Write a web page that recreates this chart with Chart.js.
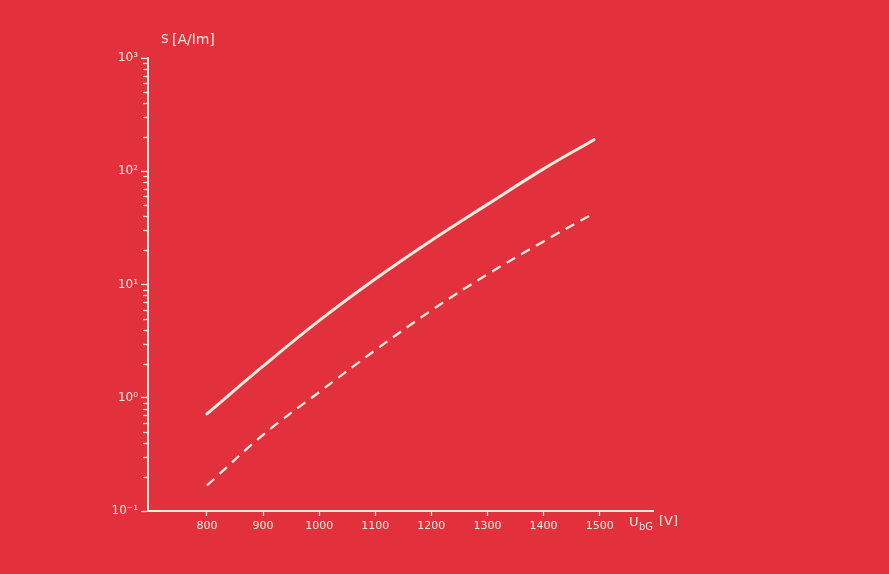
<!DOCTYPE html>
<html>
<head>
<meta charset="utf-8">
<script src="https://cdn.jsdelivr.net/npm/chart.js@4/dist/chart.umd.min.js"></script>
<style>
  html, body { margin: 0; padding: 0; background: #e3303d; }
  #wrap { width: 889px; height: 574px; position: relative; }
</style>
</head>
<body>
<div id="wrap"><canvas id="chart" width="889" height="574"></canvas></div>
<script>
// Sensitivity S [A/lm] versus supply voltage U_bG [V]
const voltages = [800, 900, 1000, 1100, 1200, 1300, 1400, 1490];
const sensitivityUpper = [0.72, 1.9, 4.8, 11.2, 24.5, 51, 105, 190];
const sensitivityLower = [0.168, 0.47, 1.12, 2.63, 5.9, 12.3, 24, 42.7];

const xTickValues = [800, 900, 1000, 1100, 1200, 1300, 1400, 1500];
const yTickValues = [0.1, 1, 10, 100, 1000];
const yTickLabels = ['10⁻¹', '10⁰', '10¹', '10²', '10³'];

const BG = '#e3303d';
const INK = '#f7ecdc';
const FONT = '"DejaVu Sans", sans-serif';

const paper = {
  id: 'paper',
  beforeDraw(chart) {
    const c = chart.ctx;
    c.save();
    c.fillStyle = BG;
    c.fillRect(0, 0, chart.width, chart.height);
    c.restore();
  },
  afterDraw(chart) {
    const c = chart.ctx;
    const y = chart.scales.y;
    const left = chart.chartArea.left;
    c.save();
    c.strokeStyle = INK;
    c.lineWidth = 1.3;
    // minor ticks 2..9 within each decade
    for (let d = -1; d < 3; d++) {
      for (let m = 2; m <= 9; m++) {
        const py = Math.round(y.getPixelForValue(m * Math.pow(10, d))) + 0.5;
        c.beginPath();
        c.moveTo(left - 5, py);
        c.lineTo(left, py);
        c.stroke();
      }
    }
    // axis titles
    c.fillStyle = INK;
    c.textBaseline = 'alphabetic';
    c.font = '12px ' + FONT;
    c.fillText('S', 161, 43);
    c.font = '14px ' + FONT;
    c.fillText('[A/lm]', 172, 44);

    c.font = '13px ' + FONT;
    c.fillText('U', 629, 526);
    c.font = '10px ' + FONT;
    c.fillText('bG', 639, 530);
    c.font = '13px ' + FONT;
    c.fillText('[V]', 659, 525);
    c.restore();
  }
};

new Chart(document.getElementById('chart'), {
  type: 'line',
  data: {
    labels: voltages,
    datasets: [
      {
        data: voltages.map((v, i) => ({ x: v, y: sensitivityUpper[i] })),
        borderColor: INK,
        borderWidth: 3,
        pointRadius: 0,
        tension: 0.4,
        borderCapStyle: 'round'
      },
      {
        data: voltages.map((v, i) => ({ x: v, y: sensitivityLower[i] })),
        borderColor: INK,
        borderWidth: 2.3,
        borderDash: [10, 7],
        pointRadius: 0,
        tension: 0.4
      }
    ]
  },
  options: {
    responsive: false,
    animation: false,
    layout: { padding: { left: 108, right: 236, top: 58, bottom: 33 } },
    plugins: { legend: { display: false }, tooltip: { enabled: false } },
    scales: {
      x: {
        type: 'linear',
        min: 695,
        max: 1595,
        afterBuildTicks(scale) { scale.ticks = xTickValues.map(v => ({ value: v })); },
        afterFit(scale) { scale.height = 30; },
        border: { color: INK, width: 2 },
        grid: { drawOnChartArea: false, tickLength: 5, tickColor: INK, tickWidth: 1.3 },
        ticks: {
          color: INK,
          font: { family: FONT, size: 11 },
          padding: 4,
          maxRotation: 0,
          autoSkip: false,
          callback(value) { return String(value); }
        }
      },
      y: {
        type: 'logarithmic',
        min: 0.1,
        max: 1000,
        afterBuildTicks(scale) { scale.ticks = yTickValues.map(v => ({ value: v })); },
        afterFit(scale) { scale.width = 40; },
        border: { color: INK, width: 2 },
        grid: { drawOnChartArea: false, tickLength: 7, tickColor: INK, tickWidth: 1.3 },
        ticks: {
          color: INK,
          font: { family: FONT, size: 12 },
          padding: 3,
          autoSkip: false,
          callback(value) {
            const i = yTickValues.indexOf(value);
            return i >= 0 ? yTickLabels[i] : '';
          }
        }
      }
    }
  },
  plugins: [paper]
});
</script>
</body>
</html>
